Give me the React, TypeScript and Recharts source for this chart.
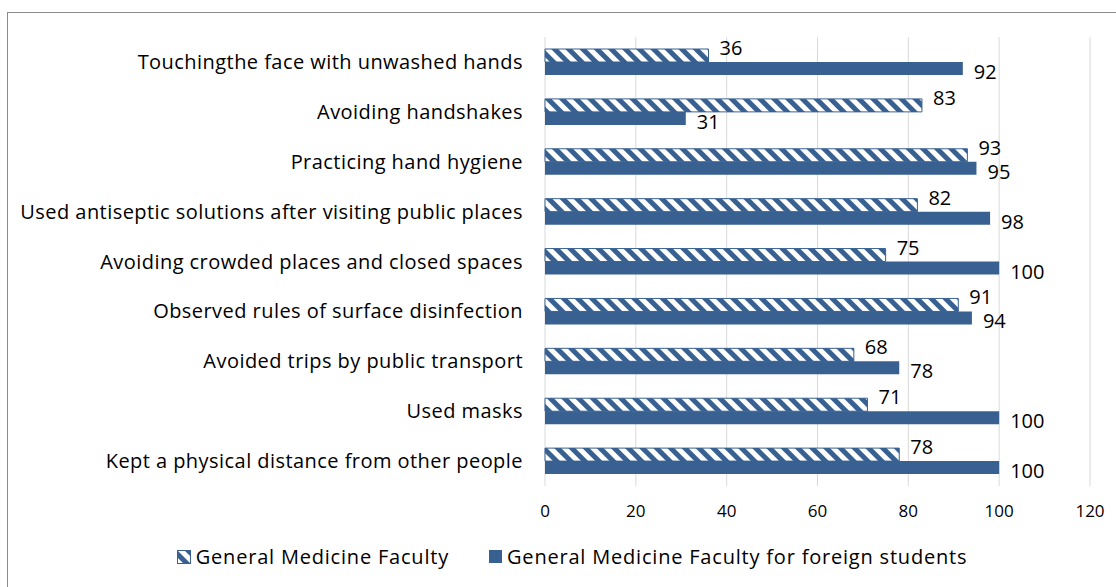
import React from 'react'
import { BarChart, Bar, XAxis, YAxis, CartesianGrid, Legend, LabelList } from 'recharts'

const categories = [
  'Touchingthe face with unwashed hands',
  'Avoiding handshakes ',
  'Practicing hand hygiene',
  'Used antiseptic solutions after visiting public places',
  'Avoiding crowded places and closed spaces',
  'Observed rules of surface disinfection',
  'Avoided trips by public transport',
  'Used masks',
  'Kept a physical distance from other people',
]
const generalMedicine = [36, 83, 93, 82, 75, 91, 68, 71, 78]
const foreignStudents = [92, 31, 95, 98, 100, 94, 78, 100, 100]
const xTicks = [0, 20, 40, 60, 80, 100, 120]

const SERIES_NAMES = ['General Medicine Faculty', 'General Medicine Faculty for foreign students']
const BLUE = '#386192'
const FONT = '"Open Sans", sans-serif'

const data = categories.map((name, i) => ({
  name,
  gm: generalMedicine[i],
  foreign: foreignStudents[i],
}))

// labels sit a bit off the bar centre, like the original
const makeLabel = (dy: number) => (props: any) => {
  const { x, y, width, height, value } = props
  return (
    <text
      x={x + width + 11}
      y={y + height / 2 + dy}
      fill="#000"
      fontSize={20}
      fontFamily={FONT}
      dominantBaseline="central"
    >
      {value}
    </text>
  )
}

const CustomLegend = () => (
  <div
    style={{
      display: 'flex',
      justifyContent: 'center',
      alignItems: 'center',
      fontFamily: FONT,
      fontSize: 20,
      letterSpacing: 0.8,
      color: '#000',
      paddingTop: 17,
      paddingLeft: 54,
    }}
  >
    <svg width={14} height={14} style={{ marginRight: 5 }}>
      <rect x={0.5} y={0.5} width={13} height={13} fill="url(#hatch)" stroke={BLUE} />
    </svg>
    <span style={{ marginRight: 40 }}>{SERIES_NAMES[0]}</span>
    <svg width={13} height={13} style={{ marginRight: 5 }}>
      <rect x={0} y={0} width={13} height={13} fill={BLUE} />
    </svg>
    <span>{SERIES_NAMES[1]}</span>
  </div>
)

export default function App() {
  return (
    <div style={{ position: 'absolute', left: 0, top: 0, width: 1116, height: 587, background: '#fff', overflow: 'hidden' }}>
      <div
        style={{
          position: 'absolute',
          left: 7,
          top: 12,
          width: 1200,
          height: 700,
          borderLeft: '1.5px solid #8c8c8c',
          borderTop: '1.5px solid #8c8c8c',
        }}
      />
      <BarChart
        width={1116}
        height={587}
        data={data}
        layout="vertical"
        margin={{ top: 37, right: 26, bottom: 11, left: 0 }}
        barGap={0}
        barSize={13}
        style={{ position: 'absolute', left: 0, top: 0 }}
      >
        <defs>
          <pattern id="hatch" patternUnits="userSpaceOnUse" width={10} height={10} patternTransform="rotate(-45)">
            <rect x={0} y={0} width={10} height={10} fill={BLUE} />
            <rect x={0} y={0} width={5} height={10} fill="#fff" />
          </pattern>
        </defs>
        <CartesianGrid horizontal={false} stroke="#d9d9d9" />
        <XAxis
          type="number"
          domain={[0, 120]}
          ticks={xTicks}
          axisLine={false}
          tickLine={false}
          tick={{ fill: '#000', fontSize: 17, fontFamily: FONT }}
          tickMargin={13}
          height={40}
          interval={0}
        />
        <YAxis
          type="category"
          dataKey="name"
          width={545}
          axisLine={false}
          tickLine={false}
          tickMargin={16}
          interval={0}
          tick={{ fill: '#000', fontSize: 20, fontFamily: FONT, letterSpacing: 0.45 }}
        />
        <Legend verticalAlign="bottom" height={50} content={<CustomLegend />} />
        <Bar dataKey="gm" name={SERIES_NAMES[0]} fill="url(#hatch)" stroke={BLUE} strokeWidth={1} isAnimationActive={false}>
          <LabelList dataKey="gm" content={makeLabel(-8)} />
        </Bar>
        <Bar dataKey="foreign" name={SERIES_NAMES[1]} fill={BLUE} isAnimationActive={false}>
          <LabelList dataKey="foreign" content={makeLabel(3)} />
        </Bar>
      </BarChart>
    </div>
  )
}
